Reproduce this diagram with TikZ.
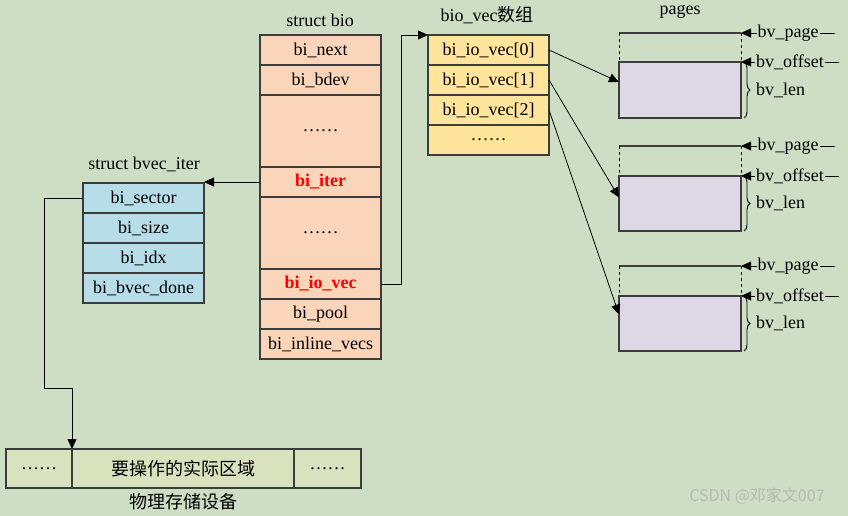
\documentclass[tikz,border=0pt]{standalone}
\usepackage{fontspec}
\setmainfont{Liberation Serif}
\newfontfamily\cjk{Noto Sans CJK SC}
\usepackage{xcolor}
\usepackage{tikz}
\usetikzlibrary{positioning, arrows.meta, decorations.pathreplacing}

\definecolor{bg}{RGB}{205,222,196}
\definecolor{edge}{RGB}{60,60,60}
\definecolor{biofill}{RGB}{250,213,185}
\definecolor{iterfill}{RGB}{183,221,232}
\definecolor{vecfill}{RGB}{255,229,155}
\definecolor{pagefill}{RGB}{222,215,229}
\definecolor{devfill}{RGB}{216,227,190}

\begin{document}
\begin{tikzpicture}[x=1pt, y=-1pt,
    font=\fontsize{18}{20}\selectfont,
    field/.style={rectangle, draw=edge, line width=1.1pt, outer sep=0pt, inner sep=0pt, minimum width=121pt, minimum height=30pt},
    biorow/.style={field, fill=biofill},
    iterrow/.style={field, fill=iterfill},
    vecrow/.style={field, fill=vecfill},
    devrow/.style={field, fill=devfill, minimum height=39pt},
    hot/.style={text=red, font=\fontsize{18}{20}\selectfont\bfseries},
    page/.style={rectangle, draw=edge, line width=1.1pt, fill=pagefill, outer sep=0pt, minimum width=122pt, minimum height=55pt},
    tag/.style={fill=bg, inner sep=1pt},
    arrow/.style={-{Triangle[length=10pt, width=9pt]}, line width=0.8pt},
    brace/.style={decorate, decoration={brace, amplitude=6pt, raise=3pt}, line width=0.9pt}
]
    % Background
    \fill[bg] (0,0) rectangle (848,516);
    \useasboundingbox (0,0) rectangle (848,516);

    % struct bio
    \node (biotitle) at (320,20) {struct bio};
    \node[biorow] (next) at (320.5,50) {bi\_next};
    \node[biorow, below=0pt of next] (bdev) {bi\_bdev};
    \node[biorow, below=0pt of bdev, minimum height=72pt] (dotsa) {……};
    \node[biorow, below=0pt of dotsa, hot] (iter) {bi\_iter};
    \node[biorow, below=0pt of iter, minimum height=72pt] (dotsb) {……};
    \node[biorow, below=0pt of dotsb, hot] (iovec) {bi\_io\_vec};
    \node[biorow, below=0pt of iovec] (pool) {bi\_pool};
    \node[biorow, below=0pt of pool] (inline) {bi\_inline\_vecs};

    % struct bvec_iter
    \node (itertitle) at (144,164) {struct bvec\_iter};
    \node[iterrow] (sector) at (143.5,198) {bi\_sector};
    \node[iterrow, below=0pt of sector] (size) {bi\_size};
    \node[iterrow, below=0pt of size] (idx) {bi\_idx};
    \node[iterrow, below=0pt of idx] (done) {bi\_bvec\_done};

    % bio_vec array
    \node (vectitle) at (487,15) {bio\_vec{\cjk 数组}};
    \node[vecrow] (vec0) at (488.5,50) {bi\_io\_vec[0]};
    \node[vecrow, below=0pt of vec0] (vec1) {bi\_io\_vec[1]};
    \node[vecrow, below=0pt of vec1] (vec2) {bi\_io\_vec[2]};
    \node[vecrow, below=0pt of vec2] (vecdots) {……};

    % Physical device
    \node[devrow, minimum width=66pt] (lead) at (39,468.5) {……};
    \node[devrow, right=0pt of lead, minimum width=222pt] (region) {\cjk 要操作的实际区域};
    \node[devrow, right=0pt of region, minimum width=67pt] (tail) {……};
    \node (devtitle) at (183,502) {\cjk 物理存储设备};

    % Pages
    \node (pagetitle) at (680,12) {pages};
    \node[page, minimum height=56pt] (page1) at (680,90) {};
    \node[page] (page2) at (680,203.5) {};
    \node[page] (page3) at (680,323.5) {};
    \coordinate (tl1) at (619,33);  \coordinate (tr1) at (741,33);
    \coordinate (tl2) at (619,146); \coordinate (tr2) at (741,146);
    \coordinate (tl3) at (619,266); \coordinate (tr3) at (741,266);
    \draw[line width=1.1pt, draw=edge] (tl1) -- (tr1) (tl2) -- (tr2) (tl3) -- (tr3);
    \draw[dashed, line width=0.8pt] (tl1) -- (page1.north west) (tr1) -- (page1.north east);
    \draw[dashed, line width=0.8pt] (tl2) -- (page2.north west) (tr2) -- (page2.north east);
    \draw[dashed, line width=0.8pt] (tl3) -- (page3.north west) (tr3) -- (page3.north east);

    % Page fields
    \coordinate (pe1) at (835,33);  \coordinate (oe1) at (839,62);
    \coordinate (pe2) at (835,146); \coordinate (oe2) at (839,176);
    \coordinate (pe3) at (835,266); \coordinate (oe3) at (839,296);
    \draw[arrow] (pe1) -- node[tag] (pg1) {bv\_page} (tr1);
    \draw[arrow] (oe1) -- node[tag] (of1) {bv\_offset} (page1.north east);
    \draw[arrow] (pe2) -- node[tag] (pg2) {bv\_page} (tr2);
    \draw[arrow] (oe2) -- node[tag] (of2) {bv\_offset} (page2.north east);
    \draw[arrow] (pe3) -- node[tag] (pg3) {bv\_page} (tr3);
    \draw[arrow] (oe3) -- node[tag] (of3) {bv\_offset} (page3.north east);
    \draw[brace] (page1.north east) -- (page1.south east);
    \draw[brace] (page2.north east) -- (page2.south east);
    \draw[brace] (page3.north east) -- (page3.south east);
    \node[anchor=west, inner sep=0pt] (len1) at (756,90) {bv\_len};
    \node[anchor=west, inner sep=0pt] (len2) at (756,203.5) {bv\_len};
    \node[anchor=west, inner sep=0pt] (len3) at (756,323.5) {bv\_len};

    % Arrows
    \draw[arrow] (iter.west) -- (iter.west -| sector.east);
    \draw[arrow] (iovec.east) -- ++(20,0) |- (vec0.north west);
    \coordinate (turn) at (44,388);
    \draw[arrow] (sector.west) -| (turn) -| (region.north west);
    \draw[arrow] (vec0.east) -- ([yshift=8pt]page1.west);
    \draw[arrow] (vec1.east) -- ([yshift=6pt]page2.west);
    \draw[arrow] (vec2.east) -- ([yshift=9pt]page3.west);

    % Watermark
    \node[font=\cjk\fontsize{16}{18}\selectfont, text=white!72!black] (mark) at (757,496) {CSDN @邓家文007};
\end{tikzpicture}
\end{document}
